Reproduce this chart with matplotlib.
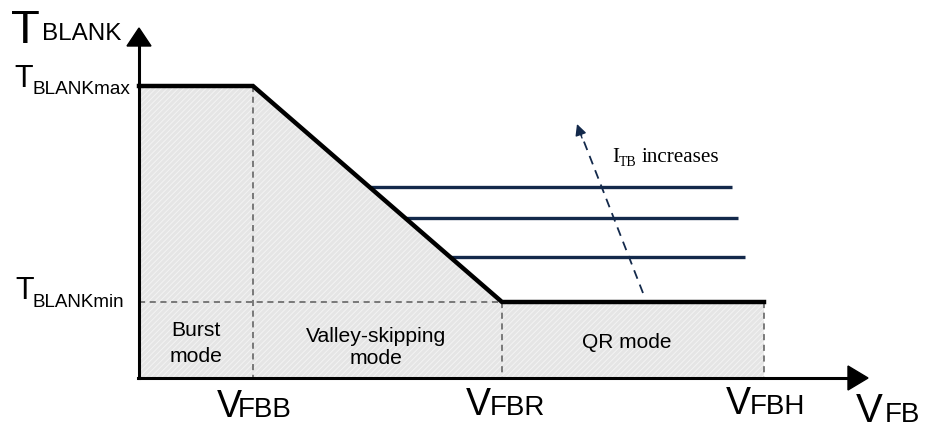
import matplotlib
matplotlib.use("Agg")
import matplotlib.pyplot as plt
from matplotlib.patches import Polygon

plt.rcParams['hatch.linewidth'] = 0.7

# ---- data (diagram coordinates, pixel-like units) ----
x_origin = 139
x_axis_end = 868
y_axis_top = 28
y_origin = 378
x_vfbb = 253
x_vfbr = 502
x_vfbh = 764
y_tmax = 86
y_tmin = 302

iso_y = [187, 218, 257]          # constant-blanking levels in QR region
iso_x_end = [732, 738, 745]

arrow_start = (643, 293)
arrow_end = (577, 124)

mode_lines = [["Burst", "mode"], ["Valley-skipping", "mode"], ["QR mode"]]

SANS = ['Liberation Sans', 'DejaVu Sans']
SERIF = ['Liberation Serif', 'DejaVu Serif']

fig = plt.figure(figsize=(9.25, 4.3), dpi=100)
ax = fig.add_axes([0, 0, 1, 1])
ax.set_xlim(0, 925)
ax.set_ylim(430, 0)
ax.axis('off')

# shaded region
poly = Polygon([(x_origin, y_tmax), (x_vfbb, y_tmax), (x_vfbr, y_tmin),
                (x_vfbh, y_tmin), (x_vfbh, y_origin), (x_origin, y_origin)],
               closed=True, facecolor='#e5e5e5', edgecolor='#f3f3f3',
               hatch='//////', linewidth=0, zorder=1)
ax.add_patch(poly)

# dashed guides
dcol = '#5a5a5a'
ax.plot([x_vfbb, x_vfbb], [y_tmax, y_origin], ls=(0, (4, 3)), color=dcol, lw=1.1, zorder=2)
ax.plot([x_vfbr, x_vfbr], [y_tmin, y_origin], ls=(0, (4, 3)), color=dcol, lw=1.1, zorder=2)
ax.plot([x_vfbh, x_vfbh], [y_tmin, y_origin], ls=(0, (4, 3)), color=dcol, lw=1.1, zorder=2)
ax.plot([x_origin, x_vfbr], [y_tmin, y_tmin], ls=(0, (4, 3)), color=dcol, lw=1.1, zorder=2)

# iso lines (blue)
slope = (y_tmin - y_tmax) / (x_vfbr - x_vfbb)
for yy, xe in zip(iso_y, iso_x_end):
    xs = x_vfbb + (yy - y_tmax) / slope
    ax.plot([xs, xe], [yy, yy], color='#13294b', lw=2.4, solid_capstyle='butt', zorder=3)

# main curve
ax.plot([x_origin, x_vfbb, x_vfbr, x_vfbh], [y_tmax, y_tmax, y_tmin, y_tmin],
        color='black', lw=3.2, solid_joinstyle='miter', zorder=4)

# axes with arrows
ax.plot([x_origin, x_origin], [y_origin, y_axis_top + 15], color='black', lw=2.2, zorder=5)
ax.plot([x_origin - 1, x_axis_end - 18], [y_origin, y_origin], color='black', lw=2.2, zorder=5)
ax.add_patch(Polygon([(x_origin - 12, y_axis_top + 18), (x_origin + 12, y_axis_top + 18),
                      (x_origin, y_axis_top)], closed=True, color='black', zorder=6))
ax.add_patch(Polygon([(x_axis_end - 20, y_origin - 12), (x_axis_end - 20, y_origin + 12),
                      (x_axis_end, y_origin)], closed=True, color='black', zorder=6))

# dashed arrow for I_TB increases
ax.plot([arrow_start[0], arrow_end[0] + 4], [arrow_start[1], arrow_end[1] + 10],
        ls=(0, (5, 3.5)), color='#13294b', lw=1.3, zorder=5)
ax.annotate('', xy=arrow_end, xytext=(arrow_end[0] + 5, arrow_end[1] + 14),
            arrowprops=dict(arrowstyle='-|>', color='#13294b', lw=1.0,
                            mutation_scale=17, shrinkA=0, shrinkB=0), zorder=6)
ax.text(612, 162, 'I', fontsize=15, family=SERIF, color='black', ha='left', va='baseline')
ax.text(619, 166, 'TB', fontsize=10, family=SERIF, color='black', ha='left', va='baseline')
ax.text(642, 162, 'increases', fontsize=15.2, family=SERIF, color='black', ha='left', va='baseline')

# y labels
ax.text(11, 43, 'T', fontsize=34, family=SANS, ha='left', va='baseline')
ax.text(42, 40, 'BLANK', fontsize=17.5, family=SANS, ha='left', va='baseline')
ax.text(14, 87, 'T', fontsize=22, family=SANS, ha='left', va='baseline')
ax.text(32, 94, 'BLANKmax', fontsize=13.7, family=SANS, ha='left', va='baseline')
ax.text(15, 299, 'T', fontsize=22, family=SANS, ha='left', va='baseline')
ax.text(32, 307, 'BLANKmin', fontsize=13.5, family=SANS, ha='left', va='baseline')

# x labels
def vlabel(xv, xs, base, big, small, sub):
    ax.text(xv, base, 'V', fontsize=big, family=SANS, ha='left', va='baseline')
    ax.text(xs, base, sub, fontsize=small, family=SANS, ha='left', va='baseline')

vlabel(217, 238, 417, 27, 20, 'FBB')
vlabel(466, 490, 415, 27, 20, 'FBR')
vlabel(726, 750, 414, 27, 20, 'FBH')
vlabel(856, 885, 422, 29, 20, 'FB')

# mode labels
mode_x = [196, 376, 627]
mode_base = [[336, 362], [342, 364], [348]]
mode_fs = [15.2, 15.2, 15]
for lines, xc, bases, fs in zip(mode_lines, mode_x, mode_base, mode_fs):
    for ln, b in zip(lines, bases):
        ax.text(xc, b, ln, fontsize=fs, family=SANS, ha='center', va='baseline')

fig.savefig('out.png', dpi=100)
